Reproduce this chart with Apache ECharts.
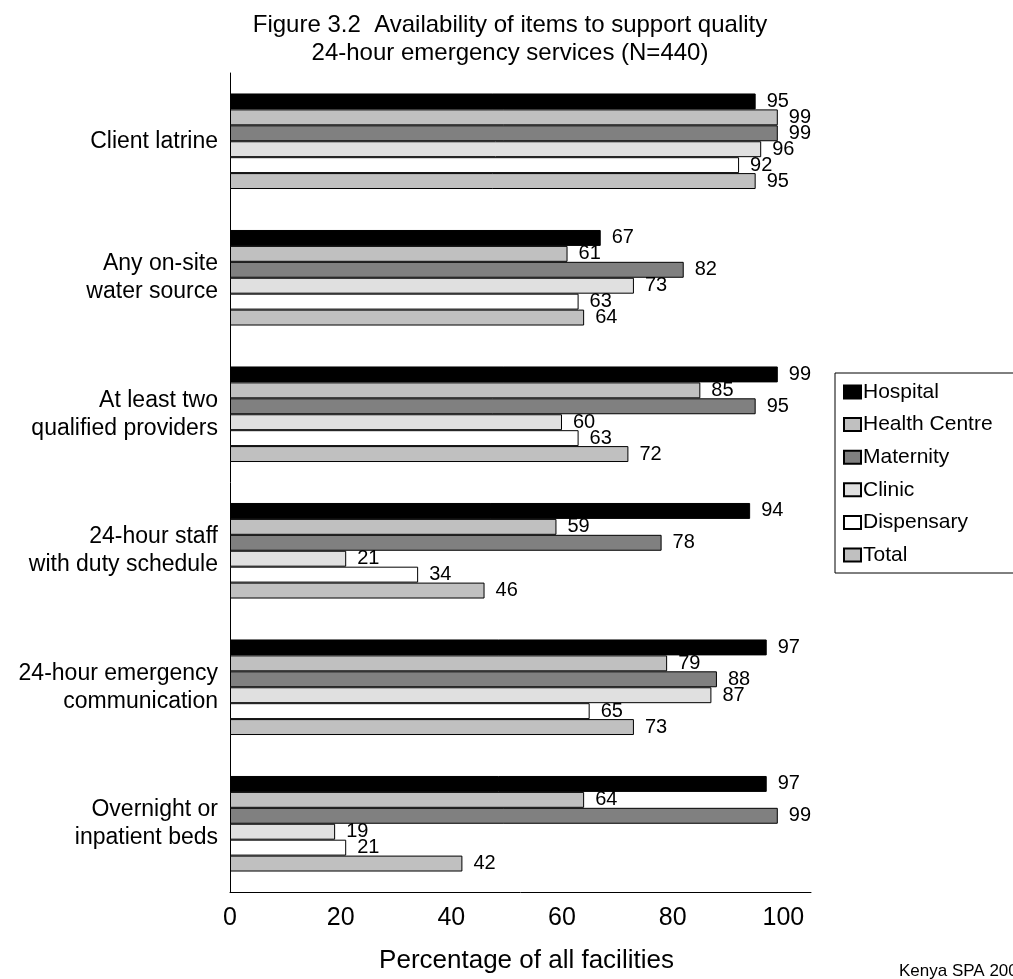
<!DOCTYPE html>
<html>
<head>
<meta charset="utf-8">
<script src="https://cdn.jsdelivr.net/npm/echarts@6/dist/echarts.min.js"></script>
<style>
html,body{margin:0;padding:0;background:#fff;}
#chart{width:1013px;height:979px;}
</style>
</head>
<body>
<div id="chart"></div>
<script>
const categories = [
  'Client latrine',
  'Any on-site\nwater source',
  'At least two\nqualified providers',
  '24-hour staff\nwith duty schedule',
  '24-hour emergency\ncommunication',
  'Overnight or\ninpatient beds'
];
const seriesNames = ['Hospital', 'Health Centre', 'Maternity', 'Clinic', 'Dispensary', 'Total'];
const hospital     = [95, 67, 99, 94, 97, 97];
const healthCentre = [99, 61, 85, 59, 79, 64];
const maternity    = [99, 82, 95, 78, 88, 99];
const clinic       = [96, 73, 60, 21, 87, 19];
const dispensary   = [92, 63, 63, 34, 65, 21];
const total        = [95, 64, 72, 46, 73, 42];
const xTicks = [0, 20, 40, 60, 80, 100];

const colors = ['#000000', '#c0c0c0', '#808080', '#e0e0e0', '#ffffff', '#c0c0c0'];
const seriesData = [hospital, healthCentre, maternity, clinic, dispensary, total];
const FONT = 'Liberation Sans, Arial, sans-serif';

const chart = echarts.init(document.getElementById('chart'), null, {renderer: 'canvas'});
chart.setOption({
  animation: false,
  backgroundColor: '#ffffff',
  textStyle: {fontFamily: FONT, color: '#000'},
  graphic: [
    {
      type: 'text', x: 510, y: 11,
      style: {
        text: 'Figure 3.2  Availability of items to support quality\n24-hour emergency services (N=440)',
        fontSize: 24, fontFamily: FONT, fill: '#000', align: 'center', verticalAlign: 'top', lineHeight: 28
      }
    },
    {
      type: 'text', x: 899, y: 971,
      style: {text: 'Kenya SPA 2004', fontSize: 17, fontFamily: FONT, fill: '#000', align: 'left', verticalAlign: 'middle'}
    }
  ],
  legend: {
    data: seriesNames,
    orient: 'vertical',
    left: 835, top: 373,
    padding: [8, 30, 7, 8],
    itemWidth: 17, itemHeight: 13,
    itemGap: 10.6,
    borderColor: '#000', borderWidth: 1,
    icon: 'rect',
    textStyle: {fontSize: 21, fontFamily: FONT, color: '#000', lineHeight: 22, padding: [0, 0, 0, -3]}
  },
  grid: {left: 230, right: 202, top: 73, bottom: 84, containLabel: false},
  xAxis: {
    type: 'value', min: 0, max: 105, interval: 20,
    axisLine: {show: true, lineStyle: {color: '#000', width: 1}},
    axisTick: {show: false},
    splitLine: {show: false},
    axisLabel: {
      fontSize: 25, fontFamily: FONT, color: '#000', margin: 14,
      showMaxLabel: false,
      formatter: function (v) { return xTicks.indexOf(v) >= 0 ? String(v) : ''; }
    },
    name: 'Percentage of all facilities',
    nameLocation: 'middle', nameGap: 56,
    nameTextStyle: {fontSize: 26, fontFamily: FONT, color: '#000', padding: [0, 0, 0, 12]}
  },
  yAxis: {
    type: 'category', data: categories, inverse: true,
    axisLine: {show: true, lineStyle: {color: '#000', width: 1}},
    axisTick: {show: false},
    axisLabel: {fontSize: 23, fontFamily: FONT, color: '#000', margin: 12, lineHeight: 28, align: 'right'}
  },
  series: seriesNames.map(function (name, i) {
    return {
      name: name, type: 'bar', data: seriesData[i],
      barGap: '0%', barCategoryGap: '30%',
      itemStyle: {color: colors[i], borderColor: '#000', borderWidth: 1},
      label: {show: true, position: 'right', distance: 11, fontSize: 20, fontFamily: FONT, color: '#000'}
    };
  })
});
</script>
</body>
</html>
